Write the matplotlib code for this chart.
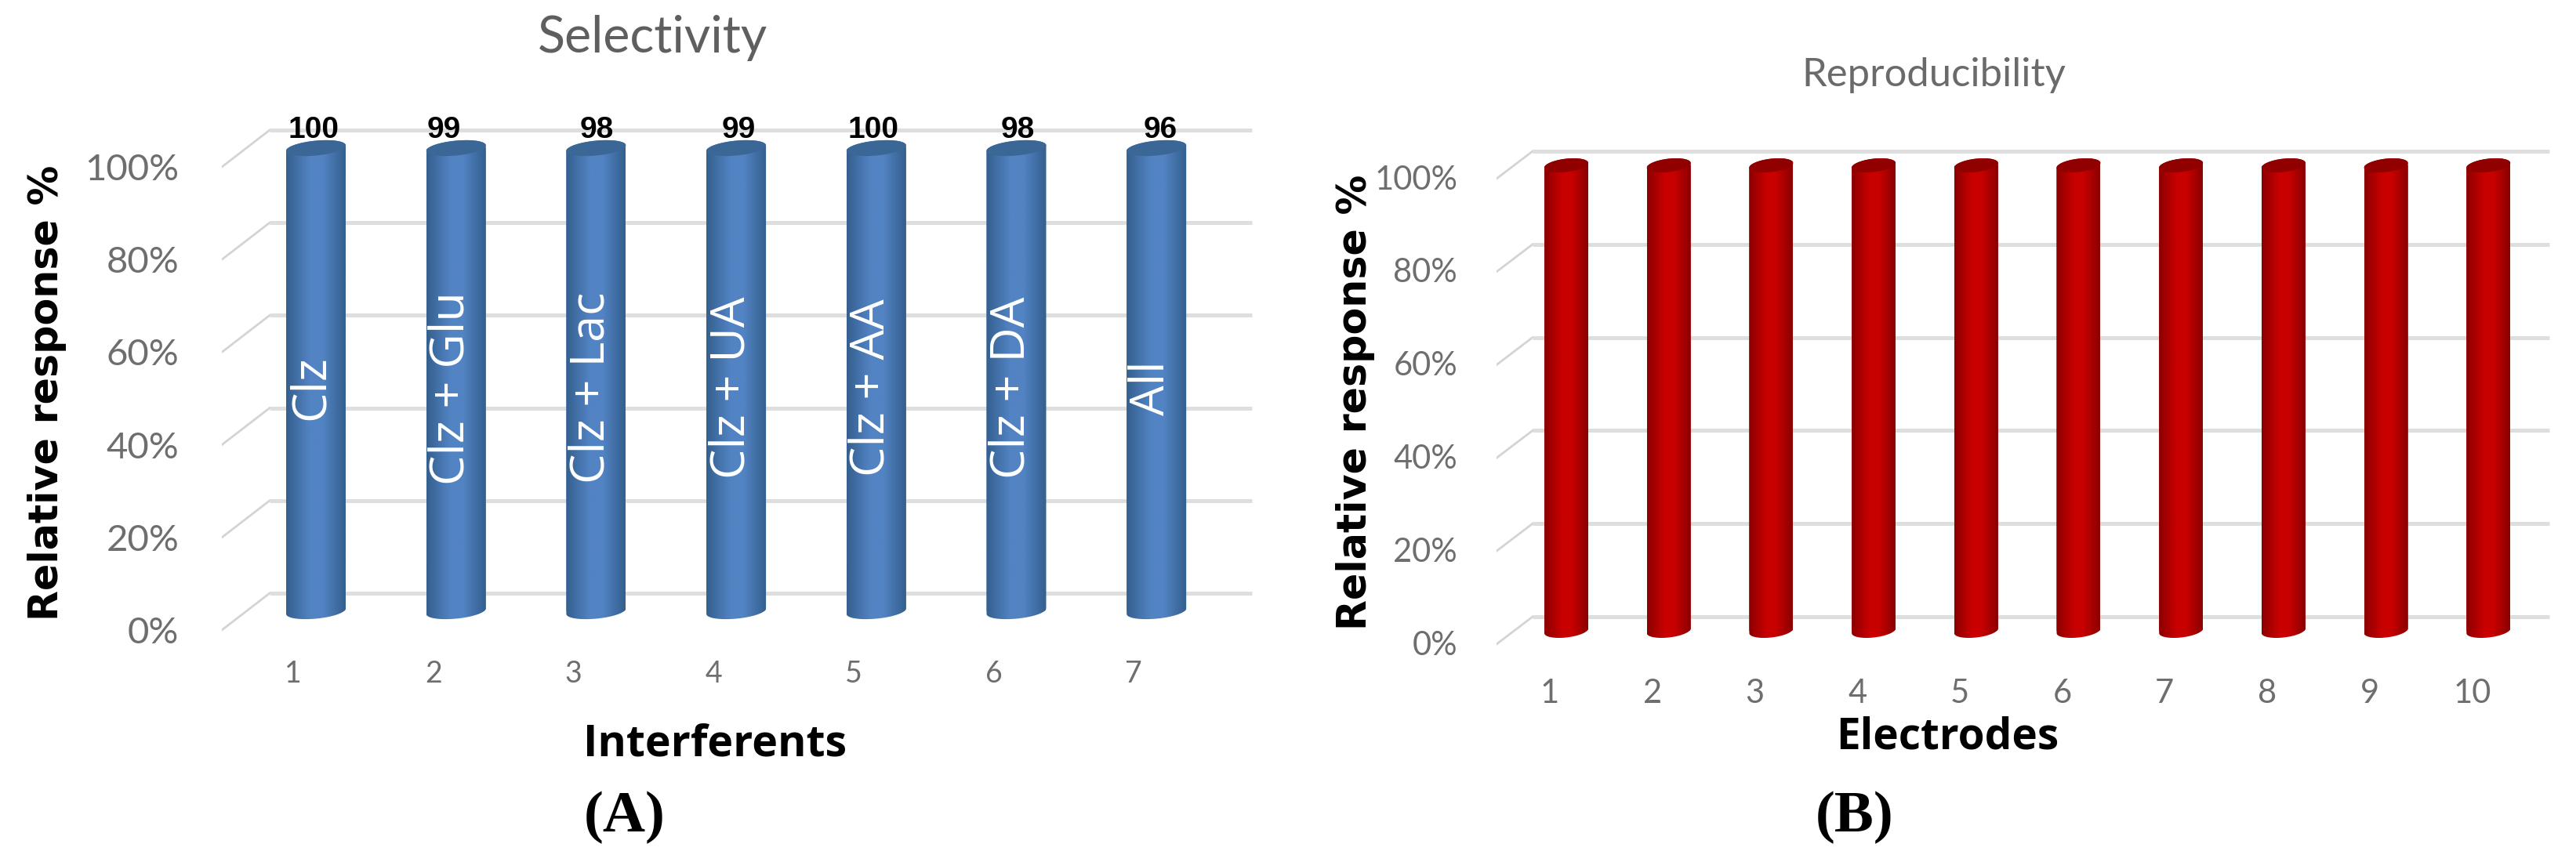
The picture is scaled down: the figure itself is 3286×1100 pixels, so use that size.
import numpy as np
import matplotlib
matplotlib.use("Agg")
import matplotlib.pyplot as plt
from matplotlib.path import Path
from matplotlib.patches import PathPatch
from matplotlib.transforms import ScaledTranslation
from matplotlib.colors import LinearSegmentedColormap

W, H = 3287, 1100
DPI = 100

sel_categories = [1, 2, 3, 4, 5, 6, 7]
sel_heights = [100, 100, 100, 100, 100, 100, 100]
sel_labels = [100, 99, 98, 99, 100, 98, 96]
sel_names = ["Clz", "Clz + Glu", "Clz + Lac", "Clz + UA", "Clz + AA", "Clz + DA", "All"]
rep_categories = [1, 2, 3, 4, 5, 6, 7, 8, 9, 10]
rep_heights = [100, 100, 100, 100, 100, 100, 100, 100, 100, 100]
y_ticks = [0, 20, 40, 60, 80, 100]
y_ticklabels = ["0%", "20%", "40%", "60%", "80%", "100%"]

TICK_FONT = ["Lato", "DejaVu Sans"]
BOLD_FONT = ["Open Sans", "DejaVu Sans"]

fig = plt.figure(figsize=(W / DPI, H / DPI), dpi=DPI, facecolor="white")


def make_panel(x_left, x_right, y0, y100, cx1, spacing, half, cats, heights, colors,
               back_dy, front_dy, front_x, back_x, grid_end, skew, ell_b, cat_dx, cat_y,
               tick_right, tick_dy, tick_fs, cat_fs):
    ax = fig.add_axes([x_left / W, 0, (x_right - x_left) / W, 1])
    ppd = (y0 - y100) / 100.0
    ax.patch.set_alpha(0)
    for s in ax.spines.values():
        s.set_visible(False)
    xu = 1.0 / spacing
    yu = 1.0 / ppd
    xfront = cats[0] + (front_x - cx1) * xu
    xback = cats[0] + (back_x - cx1) * xu
    xend = cats[0] + (grid_end - cx1) * xu
    for t in y_ticks:
        ax.plot([xfront, xback], [t - front_dy * yu, t + back_dy * yu], color="#d4d4d4", lw=2, zorder=1)
        ax.plot([xback, xend], [t + back_dy * yu] * 2, color="#dedede", lw=3.6, zorder=1,
                solid_capstyle="butt")
    bars = ax.bar(cats, heights, width=2 * half * xu, color=colors[1], zorder=2)
    grad = np.interp(np.linspace(0, 1, 64), [0, .18, .4, .62, .82, 1], [1, .55, 0, 0, .55, 1])[None, :]
    th = np.linspace(0, 2 * np.pi, 60)
    cm = LinearSegmentedColormap.from_list("g", [colors[1], colors[0]])
    for c, h, b in zip(cats, heights, bars):
        hw = half * xu
        t1 = np.linspace(np.pi, 2 * np.pi, 30)
        bx = c + hw * np.cos(t1)
        by = (ell_b * np.sin(t1) + skew * np.cos(t1)) * yu
        t2 = np.linspace(0, np.pi, 30)
        tx = c + hw * np.cos(t2)
        ty = h + (ell_b * np.sin(t2) + skew * np.cos(t2)) * yu
        verts = np.column_stack([np.r_[bx, tx], np.r_[by, ty]])
        path = Path(np.r_[verts, verts[:1]], closed=True)
        patch = PathPatch(path, transform=ax.transData, fc="none", ec="none")
        ax.add_patch(patch)
        b.set_clip_path(patch)
        im = ax.imshow(grad, extent=[c - hw, c + hw, -ell_b * 2 * yu, h + ell_b * 2 * yu],
                       cmap=cm, aspect="auto", zorder=3, interpolation="bilinear", vmin=0, vmax=1)
        im.set_clip_path(patch)
        lx = c + hw * np.cos(th)
        ly = h + (ell_b * np.sin(th) + skew * np.cos(th)) * yu
        ax.fill(lx, ly, color=colors[2], zorder=4, lw=0)
    ax.set_xlim(cats[0] + (x_left - cx1) / spacing, cats[0] + (x_right - cx1) / spacing)
    ax.set_ylim((y0 - H) / ppd, y0 / ppd)

    ax.set_yticks(y_ticks)
    ax.set_yticklabels(y_ticklabels, fontsize=tick_fs, color="#6e6e6e", family=TICK_FONT)
    ax.yaxis.set_ticks_position("none")
    ax.tick_params(axis="y", pad=0)
    tr = ScaledTranslation((tick_right - x_left) / DPI, -tick_dy / DPI, fig.dpi_scale_trans)
    for lab in ax.get_yticklabels():
        lab.set_transform(lab.get_transform() + tr)
    ax.set_xticks(cats)
    ax.set_xticklabels([str(c) for c in cats], fontsize=cat_fs, color="#6e6e6e", family=TICK_FONT)
    ax.xaxis.set_ticks_position("none")
    tr2 = ScaledTranslation(cat_dx / DPI, 0, fig.dpi_scale_trans)
    for lab in ax.get_xticklabels():
        lab.set_transform(ax.get_xaxis_transform() + tr2)
        lab.set_y((H - cat_y) / H)
        lab.set_va("center")
    return ax, yu, xu


BLUE = ("#35608f", "#5283c3", "#3b6796")
RED = ("#8c0000", "#c80000", "#900000")

ax1, yu1, xu1 = make_panel(283, 1600, 780, 189, 403, 178.7, 38, sel_categories, sel_heights, BLUE,
                           23, 24, 283, 344, 1597, 3.5, 9.5, -29, 860, 233, 24, 34, 27)
ax2, yu2, xu2 = make_panel(1909, 3260, 805, 211, 1998, 130.7, 28, rep_categories, rep_heights, RED,
                           18, 17, 1909, 1955, 3252, 3, 8.5, -21, 885, 1864, 15, 30, 30)

label_nudge = [-3, -15, 1, 3, -4, 2, 5]
for c, h, lab, name, dx in zip(sel_categories, sel_heights, sel_labels, sel_names, label_nudge):
    ax1.text(c + dx * xu1, h + 23 * yu1, str(lab), ha="center", va="center", fontsize=28,
             fontweight="bold", color="black", family=["Liberation Sans", "DejaVu Sans"], zorder=6)
    ax1.text(c - 6 * xu1, 48.2, name, rotation=90, ha="center", va="center", color="white",
             fontsize=44, family=["Open Sans", "DejaVu Sans"], zorder=6)


def ftext(x, y, s, **kw):
    fig.text(x / W, 1 - y / H, s, ha="center", va="center", **kw)


ftext(832, 48, "Selectivity", fontsize=46.5, color="#5f5f5f", family=["Lato", "DejaVu Sans"])
ftext(2467, 96, "Reproducibility", fontsize=36.5, color="#6a6a6a", family=["Lato", "DejaVu Sans"])
ftext(60, 501, "Relative response %", rotation=90, fontsize=36.5, fontweight="bold", color="black",
      family=["DejaVu Sans"])
ftext(1729, 513, "Relative response %", rotation=90, fontsize=36.5, fontweight="bold", color="black",
      family=["DejaVu Sans"])
ftext(912, 950, "Interferents", fontsize=40, fontweight="bold", color="black", family=BOLD_FONT)
ftext(2484, 941, "Electrodes", fontsize=39.5, fontweight="bold", color="black", family=BOLD_FONT)
ftext(797, 1043, "(A)", fontsize=54, fontweight="bold", color="black", family=["Liberation Serif"])
ftext(2366, 1043, "(B)", fontsize=54, fontweight="bold", color="black", family=["Liberation Serif"])

fig.savefig("out.png", dpi=DPI)
